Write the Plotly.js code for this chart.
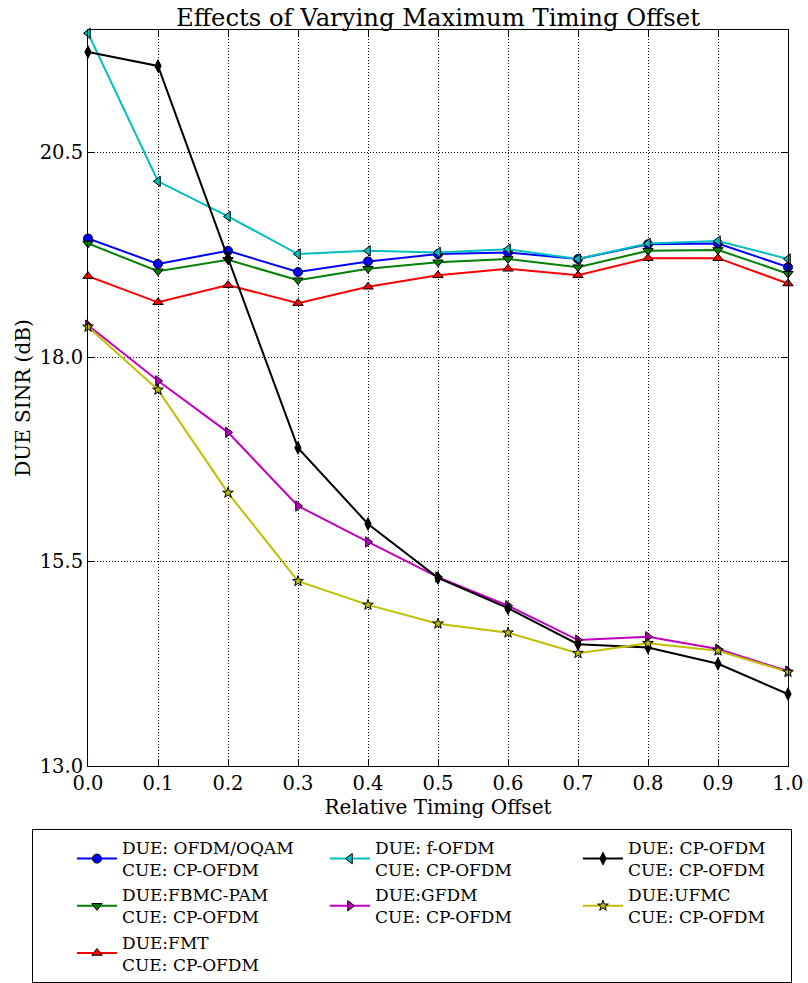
<!DOCTYPE html>
<html>
<head>
<meta charset="utf-8">
<script src="https://cdn.plot.ly/plotly-3.0.1.min.js"></script>
<style>
html,body{margin:0;padding:0;background:#fff;}
#chart{width:808px;height:983px;}
svg text, svg tspan { font-family: "DejaVu Serif", serif !important; }
</style>
</head>
<body>
<div id="chart"></div>
<script>
const offsets = [0.0, 0.1, 0.2, 0.3, 0.4, 0.5, 0.6, 0.7, 0.8, 0.9, 1.0];

const ofdmOqam = [19.45, 19.14, 19.30, 19.04, 19.17, 19.26, 19.28, 19.20, 19.38, 19.39, 19.10];
const fbmcPam  = [19.39, 19.05, 19.19, 18.94, 19.08, 19.16, 19.20, 19.10, 19.30, 19.31, 19.02];
const fmt      = [18.99, 18.67, 18.88, 18.66, 18.86, 19.00, 19.08, 19.00, 19.21, 19.21, 18.90];
const fOfdm    = [21.96, 20.15, 19.72, 19.26, 19.30, 19.28, 19.32, 19.20, 19.39, 19.42, 19.20];
const gfdm     = [18.39, 17.71, 17.08, 16.18, 15.74, 15.31, 14.96, 14.54, 14.58, 14.43, 14.16];
const cpOfdm   = [21.73, 21.56, 19.21, 16.89, 15.96, 15.30, 14.93, 14.49, 14.45, 14.25, 13.88];
const ufmc     = [18.37, 17.60, 16.34, 15.26, 14.97, 14.74, 14.63, 14.38, 14.50, 14.41, 14.15];

const seriesNames = [
  "DUE: OFDM/OQAM<br>CUE: CP-OFDM",
  "DUE:FBMC-PAM<br>CUE: CP-OFDM",
  "DUE:FMT<br>CUE: CP-OFDM",
  "DUE: f-OFDM<br>CUE: CP-OFDM",
  "DUE:GFDM<br>CUE: CP-OFDM",
  "DUE: CP-OFDM<br>CUE: CP-OFDM",
  "DUE:UFMC<br>CUE: CP-OFDM"
];
const seriesValues = [ofdmOqam, fbmcPam, fmt, fOfdm, gfdm, cpOfdm, ufmc];
const seriesColors = ["#0000ff", "#008000", "#ff0000", "#00bfbf", "#bf00bf", "#000000", "#bfbf00"];
const seriesSymbols = ["circle", "triangle-down", "triangle-up", "triangle-left", "triangle-right", "diamond-tall", "star"];
const seriesGroups = ["c1", "c1", "c1", "c2", "c2", "c3", "c3"];

const yTicks = [13.0, 15.5, 18.0, 20.5];
const xTicks = offsets;

const FONT = "DejaVu Serif";

const traces = seriesValues.map((vals, i) => ({
  x: offsets,
  y: vals,
  type: "scatter",
  mode: "lines+markers",
  name: seriesNames[i],
  legendgroup: seriesGroups[i],
  line: {color: seriesColors[i], width: 2},
  marker: {
    symbol: seriesSymbols[i],
    color: seriesColors[i],
    size: seriesSymbols[i] === "star" ? 8 : 9,
    line: {color: "#000000", width: 1}
  },
  cliponaxis: false
}));

const layout = {
  width: 808,
  height: 983,
  margin: {l: 88, r: 20, t: 30, b: 217, autoexpand: false},
  paper_bgcolor: "#ffffff",
  plot_bgcolor: "#ffffff",
  font: {family: FONT, size: 19, color: "#000000"},
  title: {
    text: "Effects of Varying Maximum Timing Offset",
    font: {family: FONT, size: 24.3, color: "#000000"},
    x: 0.5, xref: "paper", xanchor: "center",
    y: 1, yref: "paper", yanchor: "bottom",
    pad: {b: 4}
  },
  xaxis: {
    range: [0, 1],
    tickvals: xTicks,
    ticktext: xTicks.map(v => v.toFixed(1)),
    showgrid: true,
    gridcolor: "#000000",
    griddash: "1px,2px",
    gridwidth: 1,
    zeroline: false,
    showline: true,
    linecolor: "#000000",
    linewidth: 1,
    mirror: "ticks",
    ticks: "inside",
    ticklen: 6,
    tickcolor: "#000000",
    tickfont: {family: FONT, size: 19.5, color: "#000000"},
    title: {text: "Relative Timing Offset", font: {family: FONT, size: 20, color: "#000000"}, standoff: 4},
    automargin: false
  },
  yaxis: {
    range: [13, 22],
    tickvals: yTicks,
    ticktext: yTicks.map(v => v.toFixed(1)),
    showgrid: true,
    gridcolor: "#000000",
    griddash: "1px,2px",
    gridwidth: 1,
    zeroline: false,
    showline: true,
    linecolor: "#000000",
    linewidth: 1,
    mirror: "ticks",
    ticks: "inside",
    ticklen: 6,
    tickcolor: "#000000",
    tickfont: {family: FONT, size: 19.5, color: "#000000"},
    title: {text: "DUE SINR (dB)", font: {family: FONT, size: 20, color: "#000000"}, standoff: 3},
    automargin: false
  },
  showlegend: true,
  legend: {
    orientation: "h",
    x: -0.08, xanchor: "left",
    y: -0.0856, yanchor: "top",
    bgcolor: "#ffffff",
    bordercolor: "#000000",
    borderwidth: 1,
    itemwidth: 40,
    indentation: 40,
    entrywidth: 158,
    entrywidthmode: "pixels",
    traceorder: "grouped",
    tracegroupgap: 0,
    font: {family: FONT, size: 17, color: "#000000"},
    valign: "middle"
  }
};

Plotly.newPlot("chart", traces, layout, {displayModeBar: false, staticPlot: true});
</script>
</body>
</html>
